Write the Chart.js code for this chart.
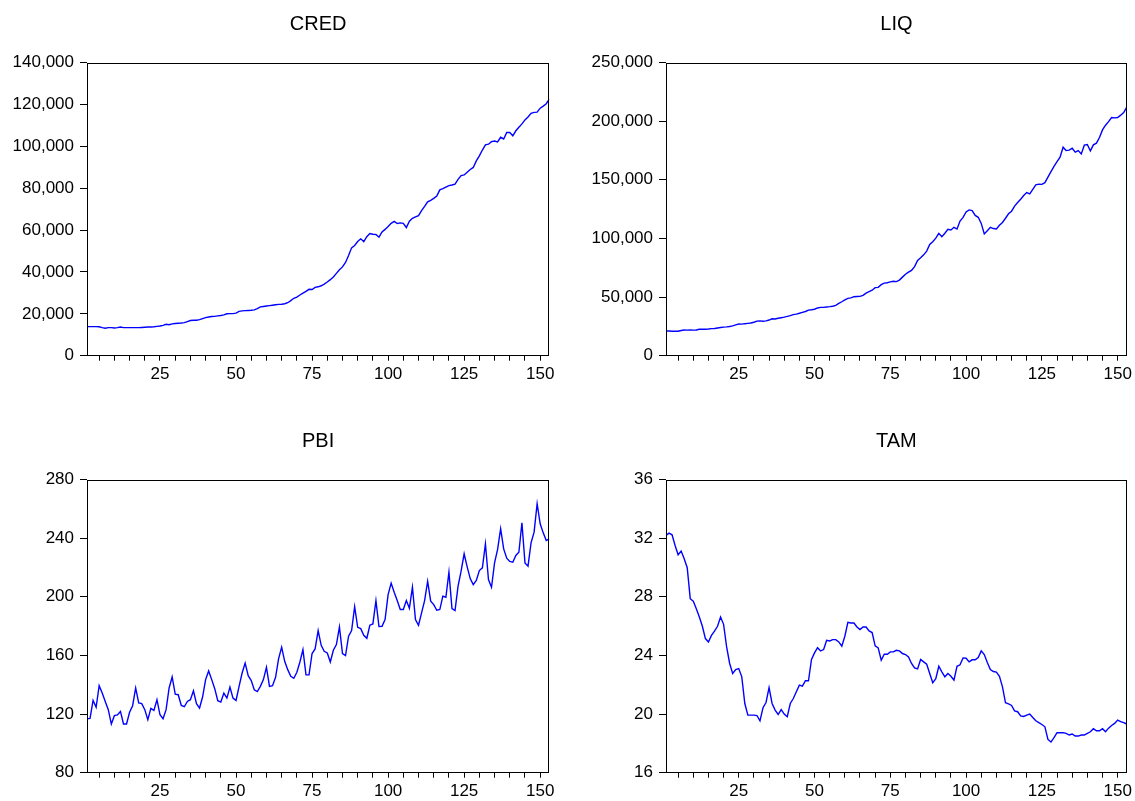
<!DOCTYPE html>
<html>
<head>
<meta charset="utf-8">
<script src="https://cdn.jsdelivr.net/npm/chart.js@4.4.1/dist/chart.umd.min.js"></script>
<style>
  html, body { margin: 0; padding: 0; background: #fff; }
  body { width: 1135px; height: 801px; position: relative; overflow: hidden; }
  canvas { position: absolute; }
</style>
</head>
<body>
<canvas id="c1" width="567" height="384" style="left:0;top:0"></canvas>
<canvas id="c2" width="568" height="384" style="left:567px;top:0"></canvas>
<canvas id="c3" width="567" height="384" style="left:0;top:417px"></canvas>
<canvas id="c4" width="568" height="384" style="left:567px;top:417px"></canvas>
<script>
// Period index (observations 1..153)
const periods = Array.from({ length: 153 }, (_, i) => i + 1);

// Minor tick positions on the horizontal axis and labelled ticks
const xTickValues = [5,10,15,20,25,30,35,40,45,50,55,60,65,70,75,80,85,90,95,100,105,110,115,120,125,130,135,140,145,150];
const xLabelValues = [25, 50, 75, 100, 125, 150];

const titles = ["CRED", "LIQ", "PBI", "TAM"];

const cred = [13900,13900,13900,13900,13800,13400,13100,13400,13400,13200,
 13400,13700,13400,13400,13400,13400,13400,13400,13500,13600,
 13700,13700,13800,14000,14200,14500,15000,14800,15200,15400,
 15500,15600,15800,16300,16800,16900,16900,17200,17700,18200,
 18500,18700,18800,19000,19200,19500,20000,20100,20100,20300,
 21200,21400,21500,21600,21700,21900,22500,23300,23500,23700,
 23900,24100,24300,24500,24600,24800,25300,26300,27400,28000,
 29000,29900,30700,31700,31600,32600,32900,33400,34200,35200,
 36300,37600,39300,41000,42400,44500,47800,51500,52600,54500,
 55800,54500,56800,58300,58000,57900,56600,59100,60300,61700,
 63200,64100,63100,63400,63200,61200,64200,65600,66300,66900,
 69300,71300,73500,74200,75100,76200,79200,79800,80500,81200,
 81500,81900,84200,86000,86300,87600,88900,89900,93000,95400,
 98200,100700,101000,102200,102500,102100,104300,103500,106600,106600,
 105000,107400,109100,110700,112600,114000,115700,116200,116300,118200,
 119200,120300,122500];

const liq = [21000,21000,20900,20800,20900,21500,21900,21800,21900,21800,
 21900,22500,22700,22600,22800,23100,23200,23600,24000,24400,
 24600,24900,25400,26300,27000,26900,27300,27600,27900,28500,
 29500,29700,29400,29700,30400,31500,31300,31900,32400,32900,
 33500,34200,35000,35500,36200,37000,37700,38900,39200,39600,
 40700,41200,41200,41500,41800,42200,42900,44600,46000,47600,
 48900,49300,50300,50500,50600,51400,53400,54600,55800,58000,
 58300,60600,61900,62200,62900,63500,63200,64500,67000,69500,
 71200,72700,76000,81300,83500,86000,89200,94800,97200,100200,
 104300,101500,104400,107800,107200,109500,108000,114800,117900,122500,
 124300,123700,119600,118000,112800,103800,106500,109400,108400,108100,
 111200,113600,117200,121000,123200,127600,130600,133400,136600,139100,
 138000,141900,145700,146300,146100,147500,152200,157000,161500,165400,
 169300,177800,174900,175300,176900,173500,174900,172100,179500,180100,
 174600,179800,181200,186000,192500,196500,199600,203100,202800,203100,
 205100,207300,211900];

const pbi = [116.8,117.0,129.3,124.6,139.4,134.3,128.6,123.0,113.2,118.9,
 119.4,121.8,113.2,113.2,121.2,125.7,137.8,127.6,127.1,123.0,
 116.1,123.9,122.5,129.8,119.5,116.8,123.0,137.8,145.3,133.6,
 133.2,125.9,125.0,128.6,129.8,135.9,127.1,124.1,131.6,143.5,
 149.4,143.5,137.3,129.1,128.2,134.3,130.9,138.4,130.9,129.3,
 138.9,148.0,154.8,146.2,142.8,136.6,135.3,138.9,143.5,151.9,
 138.9,139.4,145.1,157.8,165.6,156.0,150.3,145.8,144.4,148.5,
 155.5,164.0,146.7,146.7,161.3,164.4,176.9,166.9,162.8,161.7,
 155.5,163.5,167.4,179.4,161.3,159.9,173.1,176.9,193.3,179.2,
 178.3,173.7,171.7,180.6,181.5,197.4,179.7,179.9,184.4,201.5,
 209.3,203.1,197.4,191.3,191.3,197.4,192.2,206.5,184.4,180.6,
 189.0,197.4,210.6,197.0,194.7,190.8,191.3,200.4,199.7,216.8,
 192.0,190.6,207.2,217.5,229.3,220.4,212.4,208.3,211.1,217.9,
 219.7,236.1,211.8,206.5,223.1,232.3,246.4,232.7,226.3,224.1,
 223.6,228.2,230.4,250.5,223.1,220.9,236.8,244.1,263.5,249.8,
 243.6,238.4,239.5];

const tam = [32.18,32.34,32.23,31.5,30.87,31.12,30.6,29.98,27.87,27.7,
 27.19,26.62,25.99,25.15,24.92,25.37,25.65,25.99,26.62,26.12,
 24.58,23.45,22.77,23.04,23.1,22.54,20.72,19.93,19.93,19.93,
 19.9,19.54,20.43,20.79,21.81,20.72,20.27,19.97,20.31,20.0,
 19.82,20.72,21.06,21.52,21.97,21.9,22.27,22.27,23.72,24.17,
 24.53,24.31,24.4,25.03,24.99,25.08,25.08,24.92,24.63,25.31,
 26.26,26.21,26.21,25.94,25.76,25.94,25.94,25.67,25.56,24.65,
 24.51,23.67,24.08,24.08,24.24,24.24,24.35,24.31,24.13,24.06,
 23.9,23.45,23.15,23.08,23.72,23.56,23.4,22.77,22.13,22.42,
 23.26,22.88,22.54,22.77,22.58,22.31,23.26,23.36,23.83,23.81,
 23.56,23.7,23.7,23.85,24.31,24.06,23.51,23.04,22.9,22.86,
 22.58,21.86,20.77,20.7,20.59,20.22,20.16,19.88,19.84,19.93,
 20.0,19.77,19.54,19.41,19.29,19.13,18.27,18.09,18.39,18.73,
 18.73,18.73,18.68,18.57,18.64,18.5,18.5,18.57,18.57,18.68,
 18.79,19.0,18.86,18.86,19.0,18.79,19.04,19.22,19.36,19.59,
 19.48,19.41,19.32];

// Y-axis ranges [min, max, step]
const credAxis = [0, 140000, 20000];
const liqAxis = [0, 250000, 50000];
const pbiAxis = [80, 280, 40];
const tamAxis = [16, 36, 4];

const FONT = '"Liberation Sans", Arial, Helvetica, sans-serif';

const framePlugin = {
  id: 'frame',
  afterDatasetsDraw(chart) {
    const { ctx, chartArea: a } = chart;
    ctx.save();
    ctx.strokeStyle = '#000';
    ctx.lineWidth = 1;
    const l = Math.round(a.left) + 0.5, t = Math.round(a.top) + 0.5;
    const r = Math.round(a.right) - 0.5, b = Math.round(a.bottom) - 0.5;
    ctx.strokeRect(l, t, r - l, b - t);
    ctx.restore();
  }
};

function makeChart(id, title, values, axis, thousands, yWidth, rightPad) {
  const [ymin, ymax, ystep] = axis;
  return new Chart(document.getElementById(id), {
    type: 'line',
    data: {
      labels: periods,
      datasets: [{
        data: values,
        borderColor: '#0000ff',
        borderWidth: 1.4,
        pointRadius: 0,
        tension: 0,
        fill: false
      }]
    },
    options: {
      responsive: false,
      animation: false,
      devicePixelRatio: 1,
      layout: { padding: { left: 0, right: rightPad, top: 0, bottom: 0 } },
      plugins: {
        legend: { display: false },
        tooltip: { enabled: false },
        title: {
          display: true,
          fullSize: false,
          text: title,
          color: '#000',
          font: { family: FONT, size: 20, weight: 'normal', lineHeight: 1.2 },
          padding: { top: 12, bottom: 26.5 }
        }
      },
      scales: {
        x: {
          type: 'linear',
          min: 1,
          max: 153,
          afterBuildTicks(scale) { scale.ticks = xTickValues.map(v => ({ value: v })); },
          afterFit(scale) { scale.height = 28.3; },
          ticks: {
            autoSkip: false,
            maxRotation: 0,
            padding: 3,
            color: '#000',
            font: { family: FONT, size: 17 },
            callback: (v) => xLabelValues.includes(v) ? String(v) : ''
          },
          grid: { display: true, drawOnChartArea: false, drawTicks: true, tickLength: 5, color: '#000', lineWidth: 1 },
          border: { display: false }
        },
        y: {
          min: ymin,
          max: ymax,
          afterFit(scale) { scale.width = yWidth; },
          ticks: {
            stepSize: ystep,
            padding: 6,
            color: '#000',
            font: { family: FONT, size: 17 },
            callback: (v) => thousands ? Number(v).toLocaleString('en-US') : String(v)
          },
          grid: { display: true, drawOnChartArea: false, drawTicks: true, tickLength: 7, color: '#000', lineWidth: 1 },
          border: { display: false }
        }
      }
    },
    plugins: [framePlugin]
  });
}

makeChart('c1', titles[0], cred, credAxis, true, 87, 17.7);
makeChart('c2', titles[1], liq, liqAxis, true, 99, 6.7);
makeChart('c3', titles[2], pbi, pbiAxis, false, 87, 17.7);
makeChart('c4', titles[3], tam, tamAxis, false, 99, 6.7);
</script>
</body>
</html>
